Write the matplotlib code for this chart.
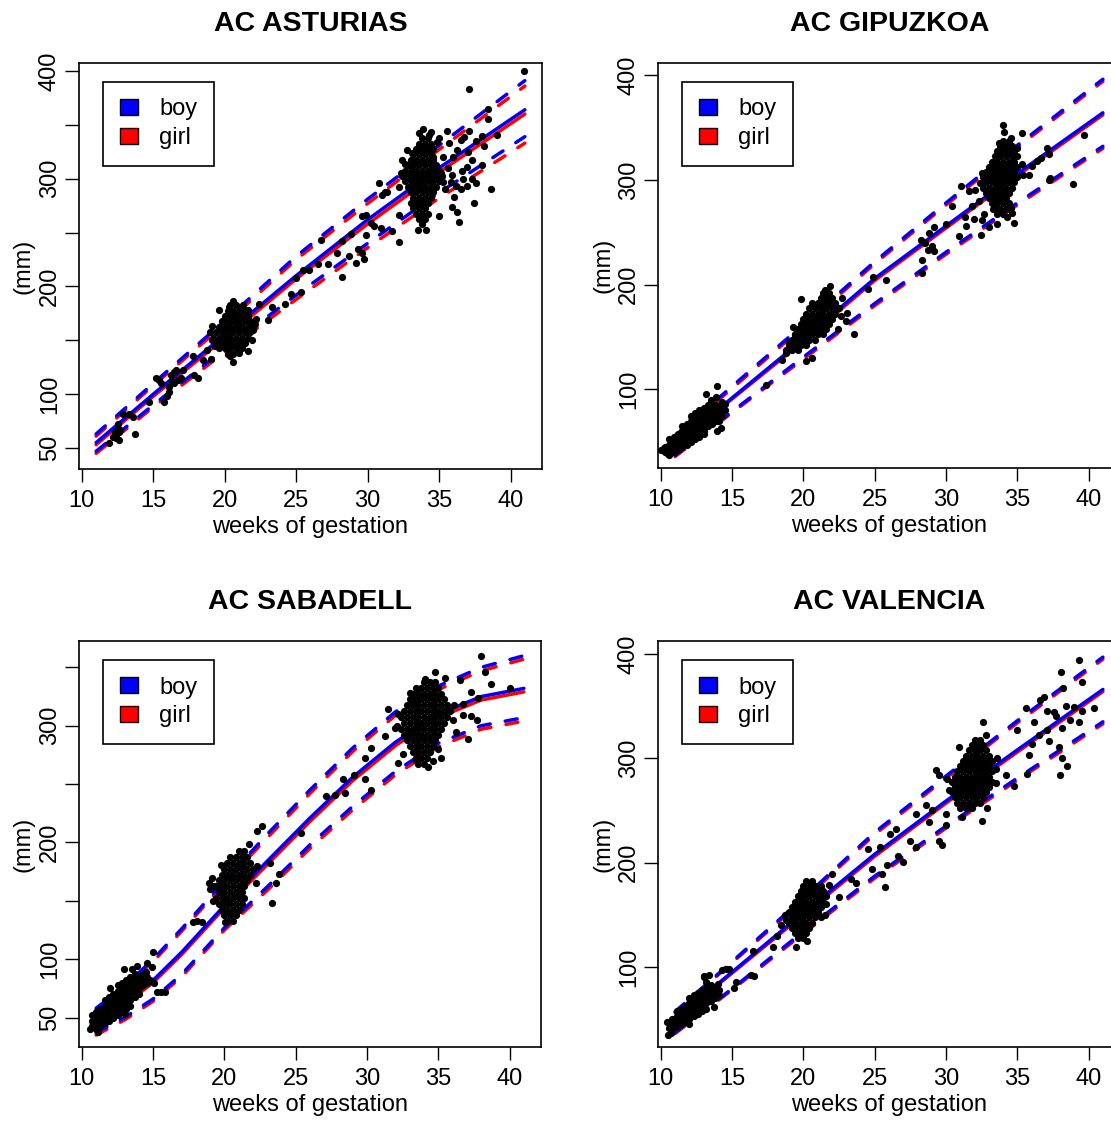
import numpy as np
import matplotlib
matplotlib.use('Agg')
import matplotlib.pyplot as plt
from matplotlib.patches import Patch

plt.rcParams['font.family'] = ['Liberation Sans', 'DejaVu Sans']

titles = ['AC ASTURIAS', 'AC GIPUZKOA', 'AC SABADELL', 'AC VALENCIA']
sex_labels = ['boy', 'girl']
sex_colors = ['#0000FF', '#FF0000']

weeks_a = [11, 15, 20, 25, 30, 35, 41]
weeks_s = [11, 13, 15, 17, 20, 23, 26, 29, 32, 35, 38, 41]

# fitted curves (mm): lower band, median, upper band
ast_boy_lo = [47, 90, 142, 192, 240, 287, 339]
ast_boy_mid = [55, 100, 155, 210, 262, 310, 364]
ast_boy_hi = [63, 110, 168, 228, 281, 331, 391]
ast_girl_lo = [45, 88, 139, 188, 236, 282, 333]
ast_girl_mid = [53, 98, 152, 207, 258, 306, 360]
ast_girl_hi = [61, 108, 165, 225, 277, 327, 386]

gip_boy_lo = [37, 79, 131, 182, 231, 278, 332]
gip_boy_mid = [47, 92, 148, 206, 256, 306, 364]
gip_boy_hi = [56, 103, 162, 222, 278, 333, 396]
gip_girl_lo = [36, 78, 129, 180, 229, 276, 330]
gip_girl_mid = [46, 91, 146, 204, 254, 304, 362]
gip_girl_hi = [55, 101, 160, 220, 276, 331, 394]

sab_boy_lo = [37, 50, 66, 87, 127, 162, 198, 231, 261, 285, 300, 307]
sab_boy_mid = [47, 63, 82, 106, 146, 184, 221, 256, 286, 310, 325, 332]
sab_boy_hi = [58, 77, 100, 126, 167, 207, 245, 281, 312, 334, 350, 360]
sab_girl_lo = [35, 48, 64, 85, 125, 159, 195, 228, 258, 282, 297, 304]
sab_girl_mid = [45, 61, 80, 104, 144, 181, 218, 253, 283, 307, 322, 329]
sab_girl_hi = [56, 75, 98, 124, 165, 204, 242, 278, 309, 331, 347, 357]

val_boy_lo = [37, 79, 134, 187, 235, 281, 335]
val_boy_mid = [50, 95, 152, 208, 259, 308, 366]
val_boy_hi = [57, 105, 166, 229, 283, 336, 397]
val_girl_lo = [36, 78, 132, 185, 233, 279, 333]
val_girl_mid = [49, 94, 150, 206, 257, 306, 364]
val_girl_hi = [56, 104, 164, 227, 281, 334, 395]

# scattered observations (week, mm)
ast_pts = [(11.9, 55), (12.2, 60), (12.3, 65), (12.4, 63), (12.4, 59), (12.5, 68), (12.5, 72),
           (12.6, 65), (12.6, 57), (12.7, 67), (12.85, 82), (13.3, 82), (13.55, 79), (13.7, 63),
           (14.72, 93), (15.18, 115), (15.4, 113), (15.53, 110), (15.77, 93), (15.93, 98),
           (16.07, 102), (16.12, 107), (16.24, 118), (16.3, 112), (16.47, 121), (16.47, 110),
           (16.59, 122), (16.7, 113), (16.93, 115), (17.05, 122), (17.75, 135), (17.87, 118),
           (18.1, 115), (18.5, 132), (18.73, 141), (19.04, 133), (19.1, 150), (19.3, 145),
           (19.0, 158), (19.1, 163), (19.62, 178), (20.2, 137), (20.3, 181), (20.4, 135),
           (20.6, 130), (20.6, 186), (21.0, 138), (21.3, 183), (21.6, 140), (21.6, 178),
           (21.9, 150), (22.0, 160), (22.1, 165), (22.2, 170), (22.4, 184), (23.0, 169), (23.3, 181),
           (24.2, 184), (24.65, 193), (25.0, 208), (25.35, 195), (25.46, 215), (25.93, 215),
           (26.5, 221), (26.7, 243), (27.2, 221), (27.87, 231), (28.2, 242), (28.2, 209),
           (28.7, 228), (28.8, 249), (29.15, 222), (29.3, 235), (29.6, 231), (29.6, 265),
           (29.74, 225), (29.85, 266), (29.9, 248), (30.2, 259), (30.44, 256), (30.8, 296),
           (30.9, 254), (31.02, 285), (31.2, 288), (31.37, 288), (31.72, 251), (32.2, 241),
           (32.2, 266), (32.2, 292), (32.3, 305), (32.38, 317), (32.6, 314), (32.77, 327),
           (33.1, 324), (33.5, 252), (33.6, 342), (33.9, 346), (34.06, 252), (34.3, 341),
           (34.4, 343), (34.6, 320), (34.87, 334), (35.0, 338), (35.0, 265), (35.1, 305),
           (35.3, 320), (35.3, 297), (35.4, 290), (35.58, 344), (35.6, 310), (35.7, 333),
           (35.8, 297), (35.93, 303), (35.93, 274), (36.0, 320), (36.05, 283), (36.16, 293),
           (36.28, 327), (36.28, 269), (36.4, 260), (36.5, 336), (36.5, 290), (36.63, 307),
           (36.7, 300), (36.75, 339), (36.98, 311), (36.98, 293), (37.0, 325), (37.1, 344),
           (37.1, 383), (37.3, 300), (37.33, 317), (37.45, 277), (37.56, 296), (37.6, 335),
           (38.0, 340), (38.03, 313), (38.15, 330), (38.4, 365), (38.4, 355), (38.6, 290),
           (39.04, 341), (40.95, 400)]

gip_pts = [(10.0, 42), (10.2, 44), (10.5, 38), (13.15, 96), (13.5, 90), (13.85, 93), (13.97, 103),
           (13.97, 60), (14.1, 70), (14.2, 63), (14.3, 75), (14.3, 88), (14.5, 86), (14.5, 80),
           (17.4, 104), (18.53, 128), (18.8, 135), (19.0, 145), (19.23, 141), (19.3, 160),
           (19.4, 152), (19.86, 186), (20.16, 127), (20.6, 130), (21.5, 195), (21.85, 199),
           (22.2, 180), (22.45, 158), (22.5, 178), (22.6, 170), (22.73, 187), (22.97, 165),
           (23.08, 173), (23.55, 153), (24.5, 196), (24.9, 207), (25.8, 204), (28.22, 243),
           (28.34, 224), (28.34, 211), (28.5, 240), (28.7, 233), (28.8, 249), (29.0, 237),
           (29.16, 255), (29.16, 232), (30.0, 258), (30.44, 275), (30.9, 246), (31.03, 294),
           (31.3, 265), (31.4, 256), (31.6, 289), (31.8, 275), (31.96, 263), (32.0, 290),
           (32.3, 280), (32.4, 297), (32.43, 247), (32.5, 262), (32.5, 307), (32.66, 267),
           (33.0, 255), (33.3, 272), (33.6, 258), (34.3, 265), (34.53, 273), (34.6, 268),
           (34.76, 259), (33.7, 335), (34.02, 352), (34.07, 346), (34.53, 340), (35.0, 330),
           (35.3, 315), (35.35, 345), (35.4, 305), (35.8, 305), (36.05, 313), (36.4, 318),
           (36.64, 321), (37.1, 330), (37.2, 325), (37.2, 300), (37.3, 302), (38.9, 296),
           (39.7, 343)]

sab_pts = [(10.6, 40), (11.1, 38), (12.0, 75), (12.97, 92), (13.04, 53), (13.5, 92), (13.9, 94),
           (14.5, 89), (14.6, 97), (14.8, 82), (14.9, 93), (15.0, 106), (15.07, 80), (15.3, 72),
           (15.55, 72), (15.8, 72), (17.76, 132), (18.1, 133), (18.46, 132), (18.9, 165),
           (19.0, 160), (19.1, 170), (19.2, 150), (19.3, 163), (19.74, 181), (20.05, 132),
           (21.73, 199), (22.2, 165), (22.3, 180), (22.3, 210), (22.62, 214), (23.2, 182),
           (23.37, 148), (23.6, 165), (23.8, 173), (25.4, 208), (27.15, 240), (27.73, 241),
           (28.32, 254), (28.43, 242), (29.1, 258), (29.84, 254), (29.84, 272), (30.3, 281),
           (30.3, 245), (31.24, 291), (31.47, 314), (31.94, 298), (32.1, 300), (32.17, 268),
           (32.2, 310), (32.5, 276), (33.0, 328), (33.46, 271), (34.04, 340), (34.28, 265),
           (34.6, 270), (34.74, 346), (35.0, 280), (35.2, 272), (35.44, 341), (36.0, 305),
           (36.1, 318), (36.26, 295), (36.5, 339), (36.7, 309), (36.7, 319), (37.1, 289),
           (37.3, 308), (37.3, 329), (37.7, 305), (37.8, 324), (38.0, 360), (38.3, 346),
           (38.7, 336), (40.0, 332)]

val_pts = [(10.4, 47), (10.47, 35), (10.55, 41), (10.7, 37), (13.0, 90), (13.04, 91), (13.4, 92),
           (13.74, 61), (14.0, 84), (14.3, 97), (14.67, 98), (14.8, 98), (15.1, 80), (15.26, 85),
           (16.3, 92), (16.5, 91), (16.43, 115), (17.83, 119), (18.18, 130), (18.4, 140),
           (18.7, 150), (18.8, 145), (19.46, 119), (20.28, 125), (21.5, 150), (21.6, 160),
           (21.8, 178), (22.03, 189), (22.5, 167), (23.32, 184), (23.67, 180), (24.53, 213),
           (24.78, 194), (25.4, 215), (25.53, 189), (25.7, 177), (25.86, 198), (26.1, 227),
           (26.47, 232), (26.6, 206), (27.0, 201), (27.5, 221), (27.9, 215), (27.9, 247),
           (28.6, 255), (28.8, 239), (29.05, 250), (29.3, 289), (29.5, 284), (29.5, 221),
           (29.7, 217), (29.98, 247), (30.0, 236), (30.1, 280), (30.2, 270), (30.9, 311),
           (31.14, 244), (32.55, 240), (32.6, 335), (32.8, 322), (32.9, 252), (33.5, 276),
           (33.5, 290), (33.6, 300), (34.18, 284), (34.77, 273), (35.0, 327), (35.6, 348),
           (35.7, 285), (35.82, 303), (36.05, 314), (36.17, 335), (36.5, 322), (36.6, 356),
           (36.9, 359), (37.1, 327), (37.1, 345), (37.2, 317), (37.6, 344), (37.7, 341),
           (37.9, 311), (38.0, 284), (38.04, 383), (38.15, 329), (38.15, 300), (38.2, 367),
           (38.4, 350), (38.5, 293), (38.7, 337), (39.0, 349), (39.32, 394), (39.32, 335),
           (39.56, 373), (39.56, 345), (40.37, 348)]

# dense clusters, read row by row: (mm, [weeks]) or (week, [mm])
ast_blob20 = [(182.5, [20.4, 20.8]),
              (177.5, [20.2, 20.6, 21.0, 21.4]),
              (172.5, [20.0, 20.4, 20.8, 21.2, 21.6]),
              (167.5, [19.8, 20.2, 20.6, 21.0, 21.4, 21.8]),
              (162.5, [19.6, 20.0, 20.4, 20.8, 21.2, 21.6, 22.0]),
              (157.5, [19.4, 19.8, 20.2, 20.6, 21.0, 21.4, 21.8]),
              (152.5, [19.2, 19.6, 20.0, 20.4, 20.8, 21.2, 21.6]),
              (147.5, [19.4, 19.8, 20.2, 20.6, 21.0, 21.4]),
              (142.5, [19.6, 20.0, 20.4, 20.8, 21.2]),
              (137.5, [20.2, 20.6])]
ast_blob34 = [(337.5, [33.8, 34.2]),
              (332.5, [33.6, 34.0, 34.4]),
              (327.5, [33.4, 33.8, 34.2, 34.6]),
              (322.5, [33.2, 33.6, 34.0, 34.4]),
              (317.5, [33.0, 33.4, 33.8, 34.2, 34.6]),
              (312.5, [32.8, 33.2, 33.6, 34.0, 34.4, 34.8]),
              (307.5, [32.6, 33.0, 33.4, 33.8, 34.2, 34.6, 35.0]),
              (302.5, [32.4, 32.8, 33.2, 33.6, 34.0, 34.4, 34.8, 35.2]),
              (297.5, [32.6, 33.0, 33.4, 33.8, 34.2, 34.6, 35.0]),
              (292.5, [32.8, 33.2, 33.6, 34.0, 34.4, 34.8]),
              (287.5, [33.0, 33.4, 33.8, 34.2, 34.6]),
              (282.5, [33.2, 33.6, 34.0, 34.4]),
              (277.5, [33.0, 33.4, 33.8, 34.2]),
              (272.5, [33.2, 33.6, 34.0]),
              (267.5, [33.4, 33.8, 34.2]),
              (262.5, [33.6, 34.0]),
              (257.5, [33.8])]

gip_blob12 = [(10.3, [40, 45]),
              (10.6, [37.5, 42.5, 47.5, 52.5]),
              (10.9, [40, 45, 50, 55]),
              (11.2, [42.5, 47.5, 52.5, 57.5]),
              (11.5, [45, 50, 55, 60, 65]),
              (11.8, [47.5, 52.5, 57.5, 62.5, 67.5]),
              (12.1, [50, 55, 60, 65, 70, 75]),
              (12.4, [52.5, 57.5, 62.5, 67.5, 72.5, 77.5]),
              (12.7, [55, 60, 65, 70, 75, 80]),
              (13.0, [57.5, 62.5, 67.5, 72.5, 77.5, 82.5]),
              (13.3, [65, 70, 75, 80, 85]),
              (13.6, [67.5, 72.5, 77.5, 82.5, 87.5]),
              (13.9, [70, 75, 80, 85]),
              (14.2, [77.5, 82.5])]
gip_blob21 = [(192.5, [21.4, 21.8]),
              (187.5, [21.2, 21.6, 22.0]),
              (182.5, [20.6, 21.0, 21.4, 21.8, 22.2]),
              (177.5, [20.4, 20.8, 21.2, 21.6, 22.0, 22.4]),
              (172.5, [20.2, 20.6, 21.0, 21.4, 21.8, 22.2]),
              (167.5, [20.0, 20.4, 20.8, 21.2, 21.6, 22.0]),
              (162.5, [19.8, 20.2, 20.6, 21.0, 21.4, 21.8]),
              (157.5, [19.6, 20.0, 20.4, 20.8, 21.2, 21.6]),
              (152.5, [19.4, 19.8, 20.2, 20.6, 21.0, 21.4]),
              (147.5, [19.2, 19.6, 20.0, 20.4, 20.8]),
              (142.5, [19.0, 19.4, 19.8, 20.2]),
              (137.5, [18.8, 19.2, 19.6])]
gip_blob34 = [(337.5, [34.0, 34.4]),
              (332.5, [33.8, 34.2, 34.6]),
              (327.5, [33.6, 34.0, 34.4, 34.8]),
              (322.5, [33.4, 33.8, 34.2, 34.6, 35.0]),
              (317.5, [33.2, 33.6, 34.0, 34.4, 34.8]),
              (312.5, [33.0, 33.4, 33.8, 34.2, 34.6, 35.0]),
              (307.5, [32.8, 33.2, 33.6, 34.0, 34.4, 34.8]),
              (302.5, [32.6, 33.0, 33.4, 33.8, 34.2, 34.6, 35.0]),
              (297.5, [32.8, 33.2, 33.6, 34.0, 34.4, 34.8]),
              (292.5, [32.6, 33.0, 33.4, 33.8, 34.2, 34.6]),
              (287.5, [32.8, 33.2, 33.6, 34.0, 34.4]),
              (282.5, [33.0, 33.4, 33.8, 34.2]),
              (277.5, [33.2, 33.6, 34.0, 34.4]),
              (272.5, [33.4, 33.8, 34.2]),
              (267.5, [33.6, 34.0])]

sab_blob12 = [(10.7, [42.5, 47.5, 52.5]),
              (11.0, [40, 45, 50, 55]),
              (11.3, [42.5, 47.5, 52.5, 57.5]),
              (11.6, [45, 50, 55, 60, 65]),
              (11.9, [47.5, 52.5, 57.5, 62.5, 67.5]),
              (12.2, [50, 55, 60, 65, 70]),
              (12.5, [52.5, 57.5, 62.5, 67.5, 72.5, 77.5]),
              (12.8, [55, 60, 65, 70, 75, 80]),
              (13.1, [57.5, 62.5, 67.5, 72.5, 77.5, 82.5]),
              (13.4, [60, 65, 70, 75, 80, 85]),
              (13.7, [67.5, 72.5, 77.5, 82.5, 87.5]),
              (14.0, [70, 75, 80, 85]),
              (14.3, [77.5, 82.5, 87.5]),
              (14.6, [80, 85])]
sab_blob21 = [(192.5, [21.0, 21.4]),
              (187.5, [20.4, 20.8, 21.2, 21.6]),
              (182.5, [20.2, 20.6, 21.0, 21.4, 21.8]),
              (177.5, [20.0, 20.4, 20.8, 21.2, 21.6, 22.0]),
              (172.5, [19.8, 20.2, 20.6, 21.0, 21.4, 21.8]),
              (167.5, [19.6, 20.0, 20.4, 20.8, 21.2, 21.6]),
              (162.5, [19.4, 19.8, 20.2, 20.6, 21.0, 21.4]),
              (157.5, [19.6, 20.0, 20.4, 20.8, 21.2]),
              (152.5, [19.4, 19.8, 20.2, 20.6, 21.0, 21.4]),
              (147.5, [19.6, 20.0, 20.4, 20.8, 21.2]),
              (142.5, [19.8, 20.2, 20.6, 21.0]),
              (137.5, [20.0, 20.4, 20.8]),
              (132.5, [20.2, 20.6])]
sab_blob34 = [(337.5, [34.0, 34.4, 34.8]),
              (332.5, [33.4, 33.8, 34.2, 34.6, 35.0]),
              (327.5, [33.2, 33.6, 34.0, 34.4, 34.8, 35.2]),
              (322.5, [33.0, 33.4, 33.8, 34.2, 34.6, 35.0, 35.4]),
              (317.5, [32.8, 33.2, 33.6, 34.0, 34.4, 34.8, 35.2, 35.6]),
              (312.5, [32.6, 33.0, 33.4, 33.8, 34.2, 34.6, 35.0, 35.4, 35.8]),
              (307.5, [32.4, 32.8, 33.2, 33.6, 34.0, 34.4, 34.8, 35.2, 35.6]),
              (302.5, [32.6, 33.0, 33.4, 33.8, 34.2, 34.6, 35.0, 35.4]),
              (297.5, [32.4, 32.8, 33.2, 33.6, 34.0, 34.4, 34.8, 35.2]),
              (292.5, [32.6, 33.0, 33.4, 33.8, 34.2, 34.6, 35.0]),
              (287.5, [32.8, 33.2, 33.6, 34.0, 34.4, 34.8]),
              (282.5, [33.0, 33.4, 33.8, 34.2, 34.6]),
              (277.5, [33.2, 33.6, 34.0, 34.4]),
              (272.5, [33.4, 33.8, 34.2]),
              (267.5, [33.6, 34.0])]

val_blob12 = [(10.8, [40, 45, 50]),
              (11.1, [42.5, 47.5, 52.5, 57.5]),
              (11.4, [45, 50, 55, 60]),
              (11.7, [47.5, 52.5, 57.5, 62.5]),
              (12.0, [45, 50, 55, 60, 65, 70]),
              (12.3, [52.5, 57.5, 62.5, 67.5, 72.5]),
              (12.6, [55, 60, 65, 70, 75]),
              (12.9, [57.5, 62.5, 67.5, 72.5, 77.5]),
              (13.2, [60, 65, 70, 75, 80, 85]),
              (13.5, [67.5, 72.5, 77.5, 82.5]),
              (13.8, [70, 75, 80]),
              (14.1, [72.5, 77.5])]
val_blob20 = [(182.5, [20.2, 20.6]),
              (177.5, [20.0, 20.4, 20.8, 21.2]),
              (172.5, [19.8, 20.2, 20.6, 21.0, 21.4]),
              (167.5, [19.6, 20.0, 20.4, 20.8, 21.2, 21.6]),
              (162.5, [19.4, 19.8, 20.2, 20.6, 21.0, 21.4]),
              (157.5, [19.2, 19.6, 20.0, 20.4, 20.8, 21.2]),
              (152.5, [19.0, 19.4, 19.8, 20.2, 20.6, 21.0]),
              (147.5, [19.2, 19.6, 20.0, 20.4, 20.8, 21.2]),
              (142.5, [19.0, 19.4, 19.8, 20.2, 20.6]),
              (137.5, [19.2, 19.6, 20.0, 20.4]),
              (132.5, [19.4, 19.8, 20.2]),
              (127.5, [19.6, 20.0])]
val_blob32 = [(317.5, [32.0, 32.4]),
              (312.5, [31.8, 32.2, 32.6]),
              (307.5, [31.6, 32.0, 32.4, 32.8]),
              (302.5, [31.4, 31.8, 32.2, 32.6, 33.0]),
              (297.5, [31.2, 31.6, 32.0, 32.4, 32.8, 33.2]),
              (292.5, [31.0, 31.4, 31.8, 32.2, 32.6, 33.0]),
              (287.5, [30.8, 31.2, 31.6, 32.0, 32.4, 32.8, 33.2]),
              (282.5, [30.6, 31.0, 31.4, 31.8, 32.2, 32.6, 33.0]),
              (277.5, [30.4, 30.8, 31.2, 31.6, 32.0, 32.4, 32.8, 33.2]),
              (272.5, [30.6, 31.0, 31.4, 31.8, 32.2, 32.6, 33.0]),
              (267.5, [30.4, 30.8, 31.2, 31.6, 32.0, 32.4, 32.8]),
              (262.5, [30.6, 31.0, 31.4, 31.8, 32.2, 32.6]),
              (257.5, [30.8, 31.2, 31.6, 32.0, 32.4]),
              (252.5, [31.0, 31.4, 31.8])]

yticks_ast = [50, 100, 150, 200, 250, 300, 350, 400]
ylabels_ast = ['50', '100', '', '200', '', '300', '', '400']
yticks_sab = [50, 100, 150, 200, 250, 300, 350]
ylabels_sab = ['50', '100', '', '200', '', '300', '']
yticks_gv = [100, 200, 300, 400]
ylabels_gv = ['100', '200', '300', '400']
xticks = [10, 15, 20, 25, 30, 35, 40]


def rows_by_mm(rows):
    return [(w, mm) for mm, ws in rows for w in ws]


def rows_by_week(rows):
    return [(w, mm) for w, mms in rows for mm in mms]


W, H = 1111, 1121
fig = plt.figure(figsize=(W / 100, H / 100), dpi=100)

panels = [
    dict(title=titles[0], box=(79, 63, 463, 406), ylim=(30.5, 407.4), weeks=weeks_a,
         boy=(ast_boy_lo, ast_boy_mid, ast_boy_hi), girl=(ast_girl_lo, ast_girl_mid, ast_girl_hi),
         pts=ast_pts + rows_by_mm(ast_blob20) + rows_by_mm(ast_blob34),
         yt=yticks_ast, yl=ylabels_ast),
    dict(title=titles[1], box=(658, 63, 462, 405), ylim=(25.1, 411.5), weeks=weeks_a,
         boy=(gip_boy_lo, gip_boy_mid, gip_boy_hi), girl=(gip_girl_lo, gip_girl_mid, gip_girl_hi),
         pts=gip_pts + rows_by_week(gip_blob12) + rows_by_mm(gip_blob21) + rows_by_mm(gip_blob34),
         yt=yticks_gv, yl=ylabels_gv),
    dict(title=titles[2], box=(79, 641, 462, 406), ylim=(24.8, 372.6), weeks=weeks_s,
         boy=(sab_boy_lo, sab_boy_mid, sab_boy_hi), girl=(sab_girl_lo, sab_girl_mid, sab_girl_hi),
         pts=sab_pts + rows_by_week(sab_blob12) + rows_by_mm(sab_blob21) + rows_by_mm(sab_blob34),
         yt=yticks_sab, yl=ylabels_sab),
    dict(title=titles[3], box=(658, 641, 462, 406), ylim=(23.1, 412.5), weeks=weeks_a,
         boy=(val_boy_lo, val_boy_mid, val_boy_hi), girl=(val_girl_lo, val_girl_mid, val_girl_hi),
         pts=val_pts + rows_by_week(val_blob12) + rows_by_mm(val_blob20) + rows_by_mm(val_blob32),
         yt=yticks_gv, yl=ylabels_gv),
]

lw = 2.5
for p in panels:
    left, top, w, h = p['box']
    ax = fig.add_axes([left / W, 1 - (top + h) / H, w / W, h / H])
    ax.set_xlim(9.8, 42.2)
    ax.set_ylim(*p['ylim'])

    # girl first, boy drawn over it
    for curves, col in ((p['girl'], sex_colors[1]), (p['boy'], sex_colors[0])):
        lo, mid, hi = curves
        ax.plot(p['weeks'], mid, color=col, lw=lw, solid_capstyle='round', zorder=2)
        for c in (lo, hi):
            ax.plot(p['weeks'], c, color=col, lw=lw, ls=(0, (3.5, 4.4)),
                    dash_capstyle='round', zorder=2)

    pts = np.array(p['pts'])
    ax.plot(pts[:, 0], pts[:, 1], 'o', color='black', ms=5.2, mew=0, zorder=3)

    ax.set_xticks(xticks)
    ax.set_xticklabels([str(t) for t in xticks])
    ax.set_yticks(p['yt'])
    ax.set_yticklabels(p['yl'], rotation=90, va='center', ha='center')
    ax.tick_params(axis='x', length=9, width=1, pad=6, labelsize=17)
    ax.tick_params(axis='y', length=10, width=1, pad=11, labelsize=17)
    for s in ax.spines.values():
        s.set_linewidth(1.2)

    ax.text(0.5, -58 / h, 'weeks of gestation', transform=ax.transAxes,
            ha='center', va='center', fontsize=17)
    ax.text(-55 / w, 0.5, '(mm)', transform=ax.transAxes, rotation=90,
            ha='center', va='center', fontsize=17)
    fig.text((left + 231.5) / W, 1 - (top - 32) / H, p['title'], ha='center',
             va='baseline', fontsize=20.5, fontweight='bold')

    handles = [Patch(facecolor=c, edgecolor='black', linewidth=1) for c in sex_colors]
    leg = ax.legend(handles, sex_labels, loc='upper left',
                    bbox_to_anchor=(24.4 / w, 1 - 18.5 / h), borderaxespad=0,
                    fontsize=17, handlelength=0.75, handleheight=0.65,
                    handletextpad=0.9, borderpad=0.72, labelspacing=0.28,
                    fancybox=False, framealpha=1, edgecolor='black')
    leg.get_frame().set_linewidth(1.2)
    leg.set_zorder(5)

fig.savefig('out.png', dpi=100)
